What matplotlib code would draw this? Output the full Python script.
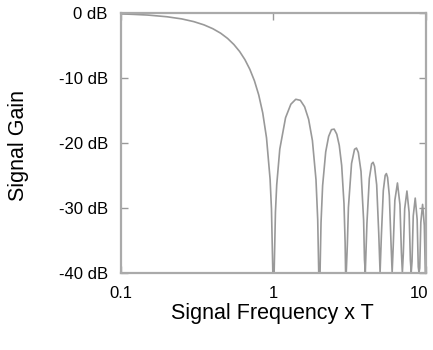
import matplotlib
matplotlib.use('agg')
import matplotlib.pyplot as plt
from matplotlib.ticker import FixedLocator, FixedFormatter, NullLocator
from matplotlib.transforms import ScaledTranslation

plt.rcParams['font.family'] = ['Liberation Sans', 'DejaVu Sans']

###########################################################
# data (frequency x T, gain in dB)
###########################################################

# main lobe
main_f = [0.1, 0.12, 0.15, 0.2, 0.25, 0.3, 0.35, 0.4, 0.45, 0.5, 0.55, 0.6, 0.65, 0.7, 0.75,
          0.8, 0.85, 0.9, 0.95, 0.97, 0.99, 1.0]
main_db = [-0.14, -0.21, -0.32, -0.58, -0.91, -1.33, -1.83, -2.42, -3.11, -3.92, -4.86, -5.94, -7.2, -8.69, -10.45,
           -12.62, -15.39, -19.23, -25.6, -30.2, -39.9, -40]

# first side lobe
lobe1_f = [1.01, 1.03, 1.05, 1.1, 1.2, 1.3, 1.4, 1.5, 1.6, 1.7, 1.8, 1.9, 1.95, 1.98, 2.0]
lobe1_db = [-40, -30.7, -26.5, -20.97, -16.14, -14.06, -13.3, -13.46, -14.46, -16.39, -19.66, -25.7, -31.86, -39.9, -40]

# second side lobe
lobe2_f = [2.02, 2.05, 2.1, 2.2, 2.3, 2.4, 2.5, 2.6, 2.7, 2.8, 2.9, 2.95, 2.97, 3.0]
lobe2_db = [-40, -32.3, -26.6, -21.41, -19.02, -17.98, -17.9, -18.68, -20.41, -23.5, -29.39, -35.45, -39.9, -40]

# remaining lobes, 3..10
far_f = [3.05, 3.1, 3.25, 3.4, 3.5, 3.6, 3.75, 3.9, 3.95, 4.0,
         4.1, 4.25, 4.4, 4.5, 4.6, 4.75, 4.9, 5.0,
         5.1, 5.25, 5.4, 5.5, 5.6, 5.75, 5.9, 6.0,
         6.1, 6.25, 6.5, 6.75, 6.9, 7.0,
         7.1, 7.25, 7.5, 7.75, 7.9, 8.0,
         8.1, 8.25, 8.5, 8.75, 8.9, 9.0,
         9.1, 9.25, 9.5, 9.75, 9.9, 10.0]
far_db = [-35.74, -29.97, -23.19, -21.01, -20.82, -21.5, -24.43, -31.96, -37.99, -40,
          -32.4, -25.52, -23.25, -23.01, -23.63, -26.49, -33.95, -40,
          -34.29, -27.36, -25.03, -24.75, -25.34, -28.15, -35.56, -40,
          -35.85, -28.87, -26.2, -29.54, -36.92, -40,
          -37.17, -30.16, -27.44, -30.74, -38.1, -40,
          -38.31, -31.28, -28.53, -31.79, -39.13, -40,
          -39.32, -32.28, -29.5, -32.73, -40, -40]

freq = main_f + lobe1_f + lobe2_f + far_f
gain = main_db + lobe1_db + lobe2_db + far_db

y_ticks = [0, -10, -20, -30, -40]
y_labels = ['0 dB', '-10 dB', '-20 dB', '-30 dB', '-40 dB']
x_ticks = [0.1, 1, 10]
x_labels = ['0.1', '1', '10']

###########################################################
# plot
###########################################################

fig = plt.figure(figsize=(4.33, 3.5), dpi=100)
ax = fig.add_axes([0.2794, 0.2214, 0.7044, 0.7415])

ax.plot(freq, gain, color='#999999', lw=1.2)

ax.set_xscale('log')
ax.set_xlim(0.1, 10)
ax.set_ylim(-40, 0)

ax.xaxis.set_major_locator(FixedLocator(x_ticks))
ax.xaxis.set_major_formatter(FixedFormatter(x_labels))
ax.xaxis.set_minor_locator(NullLocator())
ax.yaxis.set_major_locator(FixedLocator(y_ticks))
ax.yaxis.set_major_formatter(FixedFormatter(y_labels))

ax.tick_params(axis='both', direction='in', length=5, width=1, color='#999999',
               labelsize=12, top=True, right=True)
ax.tick_params(axis='y', pad=9.5)
ax.tick_params(axis='x', pad=10)

for s in ax.spines.values():
    s.set_color('#aaaaaa')
    s.set_linewidth(1.6)

fig.text(0.042, 0.585, 'Signal Gain', rotation=90, ha='center', va='center', fontsize=15.5)
fig.text(0.63, 0.105, 'Signal Frequency x T', ha='center', va='center', fontsize=15.5)

# nudge the "10" label left so it stays inside the figure
fig.canvas.draw()
lbl = ax.xaxis.get_major_ticks()[-1].label1
lbl.set_transform(lbl.get_transform() + ScaledTranslation(-5 / 72, 0, fig.dpi_scale_trans))

plt.savefig('out.png', dpi=100)
